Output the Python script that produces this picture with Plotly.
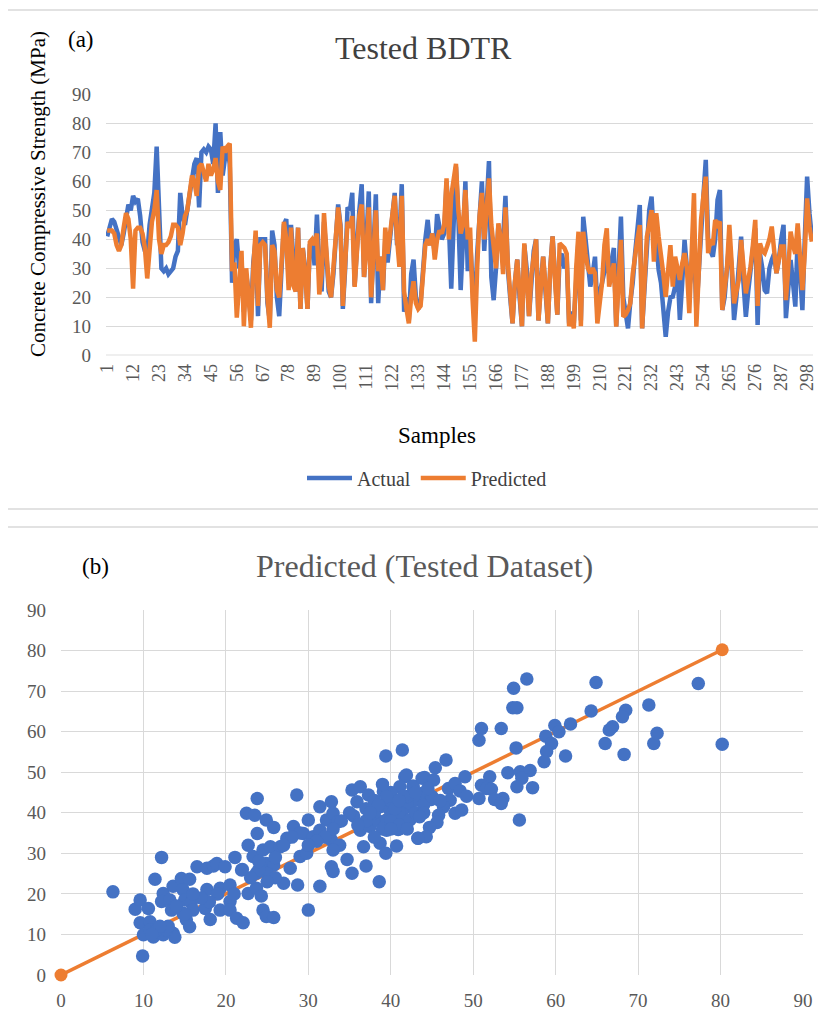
import plotly.graph_objects as go

# ---------------- Data: panel (a) ----------------
samples = list(range(1, 301))
actual = [
    41, 44, 47, 46, 43, 40, 38, 42, 47, 52,
    50, 55, 53, 54, 48, 39, 36, 35, 45, 51,
    56, 72, 45, 30, 29, 30, 28, 29, 30, 34,
    36, 56, 48, 45, 50, 55, 62, 66, 68, 51,
    70, 71, 70, 72, 71, 66, 80, 56, 77, 62,
    68, 72, 66, 25, 38, 40, 30, 33, 15, 28,
    22, 12, 32, 40, 13.5, 40, 40, 40, 18, 12,
    43, 38, 20, 13.5, 30, 45, 47, 25, 45, 30,
    22, 44, 16, 37, 30, 16, 38, 40, 31, 48.5,
    30, 22, 46, 35, 22, 20, 28, 40, 52, 45,
    16, 30, 51, 50, 56, 24, 40, 50, 59, 27,
    40, 56.5, 18, 40, 55.5, 18, 34, 22.5, 40, 32,
    40, 48, 56, 38, 40, 59, 15, 20, 12, 28,
    33, 20, 16, 18, 30, 40, 46.7, 38, 42, 35,
    48.7, 45, 40, 42, 60, 45, 23, 45, 65, 48,
    22.5, 40, 60, 29, 40, 25, 15, 35, 50, 60,
    36, 50, 67, 27, 19, 30, 45, 38, 40, 55,
    30, 20, 11, 25, 33, 20, 10, 38, 30, 13.5,
    25, 36, 40, 12, 25, 34, 22, 11, 30, 41,
    28, 14, 34, 35, 30, 33, 11, 15, 11, 25,
    40, 12, 47.8, 40, 30, 23.7, 28, 34, 15.6, 22,
    25, 30, 33, 28, 32, 37, 10, 30, 47.8, 20,
    15, 9.3, 18.5, 25, 35, 45, 51.8, 9.3, 25, 40.9,
    50, 54.7, 40, 40, 29.4, 25, 15, 6.4, 15, 20,
    20.2, 23.7, 30, 12.2, 25, 39.8, 30, 23.7, 28, 40,
    15, 30, 43.2, 55, 67.4, 39.8, 36, 34, 40, 53.6,
    57, 15.6, 20, 28, 39.8, 30, 12.2, 20, 30.6, 40.9,
    25, 13.3, 22, 30, 35, 43.8, 10.5, 35, 30, 22.5,
    21.4, 30, 32.9, 35, 28.3, 33, 40, 45, 12.8, 25,
    32.9, 25, 16.8, 40.9, 30, 15.6, 40, 61.6, 49, 40.9,
]
predicted = [
    43, 43, 43, 42, 38, 36, 38, 44, 49, 47,
    40, 23, 43, 44, 44, 42, 37, 26.5, 38, 46,
    50, 57, 40, 35, 38, 38, 39, 41, 45, 45,
    44, 38, 42, 48, 50, 55, 62, 60, 55, 65,
    66, 63, 60, 66, 62, 64, 68, 60, 57, 72,
    70, 72, 73, 29, 32, 13, 25, 36, 10, 30,
    20, 9.5, 30, 43, 17, 38, 39, 38, 20, 9.5,
    38, 36, 22.5, 20, 32, 46, 40, 22.5, 44, 24,
    22, 44, 16, 37, 28, 16, 39, 40, 38, 42,
    21, 28, 49, 38, 24, 20, 30, 42, 51, 44,
    17, 32, 46, 44, 48, 23.6, 38, 48, 52, 27,
    36, 51, 20, 38, 50, 29, 34, 22.5, 44, 35,
    42, 46, 55, 40, 30.5, 55, 22, 16, 11, 20,
    25.5, 18, 16, 17, 28, 38, 40, 38, 42, 33,
    40, 43, 42, 45, 61, 40, 55, 62, 66, 50,
    42, 45, 57, 40, 44, 20, 4.7, 30, 48, 56,
    40, 50, 61, 45, 38, 30, 45.5, 40, 28, 51,
    32, 20, 11, 25, 33, 22, 10, 38.6, 28, 13.5,
    28, 35, 40, 12, 25, 34, 24, 11, 30, 41,
    26, 14, 38.6, 38, 37, 35, 10, 14, 9.3, 30,
    42.6, 10, 42.6, 35, 30, 28.3, 30, 28.3, 11, 18,
    25, 38, 43.8, 23.7, 28, 31.7, 9.9, 25, 39.8, 13.3,
    14, 15.6, 18, 28, 35, 40, 44.9, 9.3, 25, 40.9,
    45, 50.1, 32.3, 49, 40.9, 35, 28, 20.2, 30, 38,
    23.7, 34, 30, 26, 31.7, 35.2, 30, 14.5, 35, 55.9,
    9.9, 30, 46.7, 55, 61.6, 35.2, 40, 38, 46.7, 45,
    46.1, 15.6, 22, 30, 45, 30, 17.9, 22, 26, 39.8,
    30, 21.4, 26, 30.6, 38, 46.7, 17, 38.6, 36, 35.2,
    37.5, 40, 44.4, 36, 28.3, 33, 37.5, 37.5, 19, 30,
    42.6, 38, 35, 45.5, 35, 22.5, 35, 54.1, 44.4, 39.2,
]
sample_ticks = list(range(1, 299, 11))

# ---------------- Data: panel (b) ----------------
scatter_actual = [
    6.3, 9.9, 9.0, 9.6, 10.6, 9.6, 10.0, 10.8, 11.2, 12.4, 13.6, 13.8, 10.8, 11.6, 12.8,
    12.2, 11.4, 12.4, 12.2, 13.2, 13.4, 13.6, 14.6, 15.6, 14.8, 15.0, 15.8, 14.8, 15.2, 15.6,
    16.0, 17.5, 18.1, 16.5, 17.7, 18.5, 18.9, 19.9, 17.7, 19.3, 20.5, 21.1, 19.3, 20.5, 20.5,
    21.3, 22.1, 21.9, 22.7, 22.5, 23.5, 23.8, 23.8, 22.7, 23.3, 23.7, 23.7, 24.3, 24.5, 24.9,
    25.8, 24.9, 25.8, 24.5, 25.4, 24.9, 25.8, 26.6, 27.4, 28.2, 28.6, 27.0, 27.8, 28.7, 29.0,
    30.0, 30.0, 29.4, 30.6, 29.8, 31.4, 31.4, 32.8, 32.2, 33.0, 33.6, 31.4, 32.8, 33.8, 33.0,
    32.8, 33.0, 34.7, 35.3, 37.0, 38.6, 35.3, 36.3, 35.9, 37.3, 35.5, 36.3, 36.7, 37.5, 38.3,
    38.7, 39.4, 40.7, 39.4, 41.4, 41.7, 39.1, 41.1, 42.7, 38.7, 39.9, 41.1, 42.3, 39.5, 40.7,
    42.3, 39.5, 40.9, 43.3, 43.8,
    56.5, 54.9, 54.8, 55.3, 64.9, 77.3, 71.3, 64.3, 68.5, 68.1, 66.9, 66.5, 59.9, 60.4, 61.8,
    58.8, 59.5, 58.9, 58.6, 61.2, 66.0, 68.3, 71.9, 72.3, 80.2, 51.0, 53.4, 50.7, 55.2, 46.7,
    45.4, 49.0, 41.9, 44.1, 45.2, 54.2, 55.7, 56.9, 55.9, 55.3, 57.2, 52.0, 51.0, 51.6, 52.2,
    50.7, 53.6, 52.6, 53.4, 47.0, 47.8, 48.4, 49.2, 47.2, 46.4, 47.8, 48.6, 45.8, 45.6, 44.7,
    44.3, 43.3, 55.6, 42.7, 43.9, 44.9, 42.9, 42.0, 41.3, 42.1, 41.1,
    38, 39, 40, 41, 40, 42, 43, 44, 37, 36, 39, 38, 41, 40, 42, 44, 43, 45, 46, 37,
    38, 35, 34, 33, 32, 31, 30, 29, 28, 27, 26, 25, 24, 24, 26, 25, 23, 22, 21, 19,
    18, 17, 16, 15, 14, 13, 12, 11, 39.5, 40.5, 41.5, 38.5, 37.5, 43.5, 44.5, 40, 41, 39,
]
scatter_predicted = [
    20.5, 4.7, 16.2, 18.5, 16.4, 12.9, 9.9, 13.1, 9.4, 9.9, 10.3, 9.3, 11.1, 11.1, 11.1,
    29.0, 23.6, 20.1, 18.1, 18.5, 16.0, 21.9, 23.8, 23.6, 21.0, 18.5, 17.8, 15.2, 13.6, 11.9,
    16.0, 16.4, 13.7, 26.7, 26.3, 26.9, 27.5, 26.7, 21.1, 21.4, 22.2, 29.0, 16.0, 18.1, 16.0,
    14.0, 12.9, 25.9, 20.1, 39.9, 39.4, 43.5, 34.9, 32.0, 29.2, 25.1, 21.4, 19.5, 16.0, 14.4,
    14.2, 38.2, 36.4, 30.8, 31.6, 27.5, 27.1, 31.6, 33.7, 36.6, 44.4, 22.6, 26.3, 22.2, 29.2,
    16.0, 38.2, 34.9, 34.1, 30.0, 21.9, 41.5, 42.7, 38.2, 39.9, 37.8, 35.7, 33.3, 32.0, 30.8,
    26.7, 25.5, 28.5, 25.1, 26.9, 23.0, 45.6, 46.4, 42.7, 44.4, 39.2, 35.7, 31.6, 36.6, 38.2,
    32.5, 30.0, 31.8, 54.0, 55.5, 48.9, 45.2, 46.4, 46.6, 41.5, 40.7, 42.3, 41.5, 38.2, 39.0,
    38.2, 35.7, 35.9, 33.7, 48.5,
    73.0, 70.7, 65.9, 65.9, 72.1, 71.9, 66.6, 65.1, 65.3, 63.7, 61.2, 60.4, 61.5, 60.0, 61.9,
    58.9, 57.1, 55.1, 52.6, 54.0, 57.1, 54.4, 57.1, 59.6, 56.9, 60.8, 60.8, 57.9, 56.0, 53.0,
    51.1, 48.9, 49.3, 48.7, 48.1, 49.9, 50.1, 50.4, 48.5, 46.4, 46.2, 48.9, 46.8, 46.0, 45.8,
    43.5, 43.5, 43.3, 42.3, 46.0, 47.2, 45.4, 44.1, 43.1, 41.5, 39.9, 40.7, 39.4, 37.6, 36.4,
    34.1, 33.7, 38.2, 46.4, 44.8, 43.3, 43.1, 42.3, 39.9, 38.2, 36.1,
    40, 42, 43, 40, 38, 44, 40, 42, 38, 37, 36, 34, 37, 45, 36, 40, 45, 44, 43, 41,
    43, 40, 38, 36, 34, 33, 32, 35, 34, 32, 29, 25, 26, 28, 24, 23, 24, 26, 20, 20,
    18, 19, 20, 15, 17, 12, 12, 10, 44, 41, 44, 42, 40, 39, 46, 36, 43, 47,
]
ideal_x = [0, 80.2]
ideal_y = [0, 80.2]

BLUE = "#4472C4"
ORANGE = "#ED7D31"
GRID = "#D9D9D9"
FONT = "Liberation Serif, Times New Roman, serif"
W, H = 826, 1019
OFF = 8  # page body margin offset


def px(x):
    return (x - OFF) / W


def py(y):
    return 1 - (y - OFF) / H


def f(size, color="#595959"):
    return dict(family=FONT, size=size, color=color)


fig = go.Figure()

fig.add_trace(go.Scatter(x=samples, y=actual, mode="lines", name="Actual",
                         line=dict(color=BLUE, width=4.5), xaxis="x", yaxis="y"))
fig.add_trace(go.Scatter(x=samples, y=predicted, mode="lines", name="Predicted",
                         line=dict(color=ORANGE, width=4.5), xaxis="x", yaxis="y"))

fig.add_trace(go.Scatter(x=ideal_x, y=ideal_y, mode="lines+markers", showlegend=False,
                         line=dict(color=ORANGE, width=3.5),
                         marker=dict(color=ORANGE, size=13), cliponaxis=False,
                         xaxis="x2", yaxis="y2"))
fig.add_trace(go.Scatter(x=scatter_actual, y=scatter_predicted, mode="markers", showlegend=False,
                         marker=dict(color=BLUE, size=13.5, line=dict(width=0)),
                         xaxis="x2", yaxis="y2"))

fig.update_layout(
    template="none",
    width=W, height=H,
    margin=dict(l=0, r=0, t=0, b=0, pad=0, autoexpand=False),
    paper_bgcolor="white", plot_bgcolor="white",
    font=f(18),
    xaxis=dict(domain=[px(106), px(813)], range=[0.5, 300.5], tickmode="array",
               tickvals=sample_ticks, ticktext=[str(v) for v in sample_ticks],
               tickangle=-90, tickfont=f(18),
               showgrid=False, zeroline=False, showline=False, ticks="",
               ticklabelstandoff=4, automargin=False),
    yaxis=dict(domain=[py(355.3), py(94.3)], range=[0, 90], dtick=10,
               tickfont=f(19),
               showgrid=True, gridcolor=GRID, gridwidth=1.2, zeroline=False,
               showline=False, ticks="", ticklabelstandoff=14, automargin=False),
    xaxis2=dict(domain=[px(61), px(803)], range=[0, 90], dtick=10, anchor="y2",
                tickfont=f(19),
                showgrid=True, gridcolor=GRID, gridwidth=1.2, zeroline=False,
                showline=False, ticks="", ticklabelstandoff=12, automargin=False),
    yaxis2=dict(domain=[py(975), py(610)], range=[0, 90], dtick=10, anchor="x2",
                tickfont=f(19),
                showgrid=True, gridcolor=GRID, gridwidth=1.2, zeroline=False,
                showline=False, ticks="", ticklabelstandoff=14, automargin=False),
    legend=dict(orientation="h", x=px(427), y=py(478), xanchor="center", yanchor="middle",
                font=f(20, "#404040"), bgcolor="rgba(0,0,0,0)",
                itemwidth=45),
    shapes=[
        dict(type="rect", xref="paper", yref="paper", x0=px(6.5), x1=px(825.5),
             y0=py(509), y1=py(10), line=dict(color=GRID, width=1.5), layer="below"),
        dict(type="rect", xref="paper", yref="paper", x0=px(6.5), x1=px(825.5),
             y0=py(1040), y1=py(527), line=dict(color=GRID, width=1.5), layer="below"),
        dict(type="line", xref="x", yref="y", x0=0.5, x1=300.5, y0=0, y1=0,
             line=dict(color="#BFBFBF", width=1.2), layer="below"),
    ],
    annotations=[
        dict(text="(a)", x=px(66), y=py(39), xref="paper", yref="paper", showarrow=False,
             xanchor="left", yanchor="middle", font=f(23, "black")),
        dict(text="Tested BDTR", x=px(423), y=py(48), xref="paper", yref="paper", showarrow=False,
             xanchor="center", yanchor="middle", font=f(32, "#404040")),
        dict(text="Concrete Compressive Strength (MPa)", x=px(38), y=py(194), xref="paper",
             yref="paper", showarrow=False, textangle=-90, xanchor="center", yanchor="middle",
             font=f(21, "black")),
        dict(text="Samples", x=px(437), y=py(435), xref="paper", yref="paper", showarrow=False,
             xanchor="center", yanchor="middle", font=f(23, "black")),
        dict(text="(b)", x=px(80), y=py(566), xref="paper", yref="paper", showarrow=False,
             xanchor="left", yanchor="middle", font=f(23, "black")),
        dict(text="Predicted (Tested Dataset)", x=px(424), y=py(566), xref="paper", yref="paper",
             showarrow=False, xanchor="center", yanchor="middle",
             font=f(32, "#595959")),
    ],
)

fig.write_html("out.html")
